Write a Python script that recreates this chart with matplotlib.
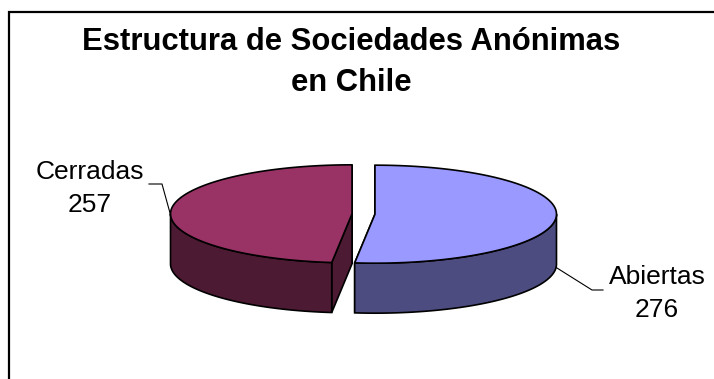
import numpy as np
import matplotlib.pyplot as plt
from matplotlib.patches import Polygon

# Data
categories = ['Abiertas', 'Cerradas']
values = [276, 257]
top_colors = ['#9999FF', '#993366']
side_colors = ['#4C4C80', '#4D1A33']

title = 'Estructura de Sociedades Anónimas\nen Chile'

plt.rcParams['font.family'] = ['Liberation Sans', 'DejaVu Sans']

fig = plt.figure(figsize=(7.14, 3.79), dpi=100)
ax = fig.add_axes([0, 0, 1, 1])
ax.set_xlim(0, 714)
ax.set_ylim(379, 0)
ax.axis('off')

# pie geometry (pixel space)
cx, cy = 363.5, 214
rx, ry = 181.5, 49
depth = 50
explode = 11.5
lw = 1.2


def rim(x0, y0, ang, dz=0):
    a = np.radians(ang)
    return x0 + rx * np.cos(a), y0 - ry * np.sin(a) + dz


total = sum(values)
start = 90.0
slices = []
for v in values:
    sweep = 360.0 * v / total
    # clockwise from start
    a1, a0 = start, start - sweep
    slices.append((a0, a1))
    start = a0

for (a0, a1), tc, sc in zip(slices, top_colors, side_colors):
    mid = np.radians((a0 + a1) / 2)
    x0 = cx + explode * np.cos(mid)
    y0 = cy - explode * ry / rx * np.sin(mid)

    # radial cut faces
    for a in (a0, a1):
        px, py = rim(x0, y0, a)
        face = [(x0, y0), (px, py), (px, py + depth), (x0, y0 + depth)]
        ax.add_patch(Polygon(face, closed=True, facecolor=sc, edgecolor='black',
                             linewidth=lw, zorder=1))

    # outer wall on the front half
    lo = a0 % 360
    hi = a1 % 360
    if hi <= lo:
        hi += 360
    w0 = max(lo, 180.0)
    w1 = min(hi, 360.0)
    if w1 > w0:
        t = np.linspace(w0, w1, 120)
        xs, ys = rim(x0, y0, t)
        wall = np.concatenate([np.column_stack([xs, ys]),
                               np.column_stack([xs[::-1], ys[::-1] + depth])])
        ax.add_patch(Polygon(wall, closed=True, facecolor=sc, edgecolor='black',
                             linewidth=lw, zorder=2))

    # top face
    t = np.linspace(a0, a1, 200)
    xs, ys = rim(x0, y0, t)
    top = np.vstack([[x0, y0], np.column_stack([xs, ys])])
    ax.add_patch(Polygon(top, closed=True, facecolor=tc, edgecolor='black',
                         linewidth=lw, zorder=3))

# labels with leader lines
ab_x = cx + explode
ce_x = cx - explode
ex, ey = rim(ab_x, cy, -4, depth)
ax.plot([ex, 592, 603], [ey, 290, 290], color='black', lw=0.8, zorder=4)
ax.text(657, 317, f'{categories[0]}\n{values[0]}', ha='center', va='baseline',
        fontsize=19, linespacing=1.48)

ex, ey = rim(ce_x, cy, 181)
ax.plot([ex, 162, 149], [ey, 184, 184], color='black', lw=0.8, zorder=4)
ax.text(90, 212, f'{categories[1]}\n{values[1]}', ha='center', va='baseline',
        fontsize=19, linespacing=1.48)

# title
ax.text(351.5, 91, title, ha='center', va='baseline', fontsize=22.3,
        fontweight='bold', linespacing=1.48)

# chart area frame (runs off the right and bottom)
ax.plot([9, 9, 720], [390, 12, 12], color='black', lw=1.6, zorder=5,
        solid_joinstyle='miter')

fig.savefig('out.png', dpi=100)
